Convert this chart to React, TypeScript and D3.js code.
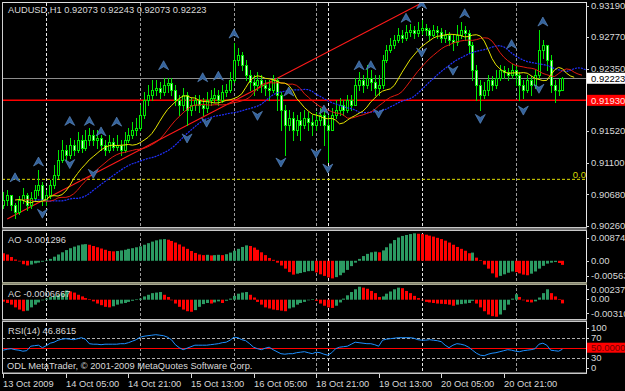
import React from 'react';
import * as d3 from 'd3';

const W = 625;
const H = 391;

// ---------- price data (H1 bars, AUDUSD) ----------
const firstOpen = 0.9054;
const highs = [
  0.9071, 0.9074, 0.9067, 0.9056, 0.9066, 0.9076, 0.907, 0.9071, 0.908, 0.91,
  0.9084, 0.9074, 0.9087, 0.9107, 0.9127, 0.914, 0.9134, 0.9143, 0.914, 0.9151,
  0.9147, 0.9153, 0.9156, 0.9153, 0.9153, 0.9147, 0.914, 0.9147, 0.9143, 0.9147,
  0.914, 0.9151, 0.9156, 0.9164, 0.9169, 0.9187, 0.9204, 0.9213, 0.922, 0.922,
  0.9217, 0.9223, 0.9223, 0.9223, 0.9213, 0.92, 0.9209, 0.9204, 0.9196, 0.92,
  0.92, 0.9196, 0.9204, 0.9207, 0.9209, 0.9207, 0.9213, 0.9215, 0.9231, 0.9269,
  0.9263, 0.9257, 0.9247, 0.9233, 0.9227, 0.9231, 0.9227, 0.922, 0.922, 0.9227,
  0.9223, 0.9204, 0.9187, 0.918, 0.9177, 0.9173, 0.9177, 0.918, 0.9177, 0.9173,
  0.9177, 0.9183, 0.918, 0.9173, 0.9183, 0.9193, 0.9196, 0.9193, 0.92, 0.92,
  0.9223, 0.9231, 0.9227, 0.924, 0.9233, 0.9227, 0.9227, 0.9253, 0.9267, 0.9276,
  0.928, 0.9289, 0.9286, 0.9293, 0.9294, 0.9292, 0.9297, 0.93, 0.9294, 0.9289,
  0.9293, 0.9292, 0.9289, 0.9286, 0.9284, 0.928, 0.9293, 0.9297, 0.9292, 0.9286,
  0.927, 0.924, 0.922, 0.9217, 0.9227, 0.9225, 0.9233, 0.924, 0.9239, 0.9236,
  0.9241, 0.9239, 0.9231, 0.922, 0.9227, 0.9225, 0.9233, 0.9286, 0.9273, 0.9267,
  0.9253, 0.922, 0.9222, 0.92243,
];
const lows = [
  0.905, 0.9054, 0.9047, 0.9036, 0.9042, 0.9056, 0.9047, 0.905, 0.906, 0.9067,
  0.9054, 0.9054, 0.9063, 0.9076, 0.909, 0.9111, 0.9114, 0.9116, 0.912, 0.9124,
  0.9124, 0.9127, 0.9134, 0.9134, 0.913, 0.9127, 0.912, 0.9124, 0.9127, 0.9127,
  0.912, 0.9124, 0.9137, 0.9143, 0.9147, 0.9153, 0.9169, 0.9187, 0.9193, 0.92,
  0.9196, 0.92, 0.9204, 0.92, 0.9187, 0.9173, 0.918, 0.916, 0.9173, 0.918,
  0.9177, 0.9173, 0.9177, 0.9187, 0.9191, 0.9187, 0.9191, 0.9199, 0.9204, 0.9217,
  0.924, 0.9233, 0.922, 0.9207, 0.92, 0.9207, 0.9204, 0.92, 0.9193, 0.9204,
  0.918, 0.9153, 0.912, 0.9153, 0.914, 0.9147, 0.914, 0.9156, 0.9153, 0.9147,
  0.9153, 0.916, 0.9134, 0.9111, 0.9153, 0.9169, 0.9173, 0.9173, 0.9177, 0.918,
  0.9187, 0.9207, 0.9204, 0.9209, 0.9207, 0.92, 0.92, 0.9209, 0.9244, 0.9257,
  0.9263, 0.927, 0.927, 0.9273, 0.9278, 0.9276, 0.9278, 0.9281, 0.928, 0.9273,
  0.9278, 0.9276, 0.927, 0.927, 0.9267, 0.926, 0.9267, 0.9276, 0.9273, 0.9257,
  0.922, 0.9193, 0.918, 0.9196, 0.92, 0.9207, 0.9209, 0.922, 0.9223, 0.922,
  0.9223, 0.9213, 0.9193, 0.9196, 0.9204, 0.92, 0.9209, 0.9223, 0.9249, 0.9233,
  0.9204, 0.9191, 0.92, 0.92073,
];
const closes = [
  0.906, 0.9067, 0.9054, 0.9044, 0.906, 0.9067, 0.9054, 0.9063, 0.9074, 0.908,
  0.906, 0.9067, 0.908, 0.9094, 0.9114, 0.9127, 0.912, 0.9134, 0.9127, 0.914,
  0.913, 0.914, 0.9147, 0.914, 0.9143, 0.9134, 0.9127, 0.9137, 0.9131, 0.9134,
  0.9127, 0.914, 0.9147, 0.9153, 0.9156, 0.9173, 0.9193, 0.92, 0.9207, 0.9209,
  0.9204, 0.9213, 0.9216, 0.9207, 0.9193, 0.9187, 0.92, 0.918, 0.9187, 0.9193,
  0.9187, 0.9183, 0.9193, 0.9196, 0.92, 0.9193, 0.9204, 0.9207, 0.922, 0.9247,
  0.9253, 0.924, 0.9227, 0.9217, 0.9213, 0.922, 0.9213, 0.9209, 0.9207, 0.922,
  0.92, 0.918, 0.916, 0.9169, 0.9153, 0.9167, 0.916, 0.9169, 0.9164, 0.916,
  0.9167, 0.9173, 0.916, 0.9153, 0.9173, 0.918, 0.9187, 0.918, 0.9193, 0.9187,
  0.9213, 0.922, 0.9213, 0.9223, 0.9217, 0.9209, 0.9213, 0.9247, 0.926, 0.9267,
  0.9273, 0.928, 0.9276, 0.9284, 0.9286, 0.9282, 0.9286, 0.9289, 0.9286, 0.928,
  0.9286, 0.9284, 0.9276, 0.928, 0.9273, 0.927, 0.928, 0.9286, 0.9282, 0.9267,
  0.9233, 0.9213, 0.92, 0.9207, 0.922, 0.9213, 0.9223, 0.9233, 0.9231, 0.9227,
  0.9233, 0.9227, 0.9213, 0.9207, 0.922, 0.9213, 0.9227, 0.926, 0.9267, 0.9247,
  0.9213, 0.9207, 0.92073, 0.92223,
];

// ---------- indicator values ----------
const aoValues = [
  0.0024, 0.002, 0.0012, 0.0004, -0.0002, -0.0011, -0.0015, -0.0012, -0.0008, -0.0006,
  -0.0003, 0.0001, 0.0006, 0.0013, 0.002, 0.0027, 0.0034, 0.004, 0.0045, 0.0049,
  0.0052, 0.0053, 0.0051, 0.0047, 0.0043, 0.0039, 0.0035, 0.0031, 0.003, 0.0031,
  0.0033, 0.0035, 0.0038, 0.004, 0.0043, 0.0046, 0.0051, 0.0056, 0.0061, 0.0065,
  0.0068, 0.0069, 0.0067, 0.0063, 0.0058, 0.0052, 0.0045, 0.0038, 0.0031, 0.0025,
  0.002, 0.0018, 0.0019, 0.0017, 0.0018, 0.0019, 0.0018, 0.0021, 0.0026, 0.0032,
  0.0038, 0.0044, 0.0049, 0.0047, 0.0042, 0.0035, 0.0027, 0.0018, 0.0009, 0.0003,
  -0.0006, -0.0015, -0.0025, -0.0036, -0.0044, -0.0041, -0.0039, -0.0036, -0.0033, -0.0032,
  -0.0037, -0.0043, -0.0048, -0.0053, -0.0056, -0.0052, -0.0046, -0.0038, -0.0029, -0.0017,
  -0.0006, 0.0006, 0.0015, 0.0022, 0.0027, 0.0029, 0.0027, 0.0033, 0.0043, 0.0055,
  0.0066, 0.0074, 0.0079, 0.0082, 0.0085, 0.00874, 0.0086, 0.0085, 0.0083, 0.008,
  0.0077, 0.0073, 0.0069, 0.0064, 0.0058, 0.0051, 0.0044, 0.0038, 0.0032, 0.0024,
  0.0026, 0.001, 0.0002, -0.0012, -0.0025, -0.004, -0.0053, -0.0048, -0.0043, -0.0038,
  -0.0034, -0.0036, -0.004, -0.0044, -0.0046, -0.0041, -0.0034, -0.0025, -0.0016, -0.0009,
  -0.0006, -0.0004, -0.0007, -0.001296,
];
const acValues = [
  -0.00035, -0.0006, -0.0009, -0.0014, -0.0018, -0.0021, -0.002, -0.0014, -0.0009, -0.0005,
  -0.0001, 0.0002, 0.0005, 0.0007, 0.0009, 0.0012, 0.0017, 0.0015, 0.0013, 0.0009,
  0.0006, 0.0003, 0.0001, -0.0003, -0.0007, -0.001, -0.0013, -0.0014, -0.0012, -0.0009,
  -0.0007, -0.0006, -0.0004, -0.0002, 0.00005, 0.0002, 0.0006, 0.0009, 0.0012, 0.0013,
  0.0014, 0.0009, 0.0005, -0.0001, -0.0007, -0.0013, -0.0018, -0.0021, -0.0022, -0.0019,
  -0.0013, -0.0008, -0.0006, -0.0007, -0.0005, -0.0003, -0.0006, -0.0002, 0.0002, 0.0007,
  0.0011, 0.0013, 0.0014, 0.0009, 0.0004, -0.0004, -0.0009, -0.0014, -0.0016, -0.0018,
  -0.0019, -0.002, -0.0021, -0.0016, -0.0014, -0.0009, -0.0006, -0.0004, -0.0001, 0.0001,
  -0.0002, -0.0007, -0.0011, -0.0014, -0.0015, -0.0011, -0.0005, 0.0002, 0.0008, 0.0014,
  0.0019, 0.00237, 0.0022, 0.002, 0.0016, 0.0012, 0.0005, 0.0006, 0.0011, 0.0015,
  0.0019, 0.0022, 0.0021, 0.0016, 0.0012, 0.0007, 0.0003, -0.0001, -0.0004, -0.0005,
  -0.0006, -0.0007, -0.00075, -0.0008, -0.0009, -0.0011, -0.0009, -0.0008, -0.0007, -0.0006,
  -0.0002, -0.0007, -0.0014, -0.0021, -0.0027, -0.003, -0.0031, -0.0027, -0.0019, -0.0009,
  0.0002, 0.001, 0.0005, -0.0001, -0.0004, -0.0005, -0.0003, 0.0004, 0.0012, 0.0019,
  0.0012, 0.0006, 0.0001, -0.00067,
];
const rsiValues = [
  45, 47, 48, 46, 45, 43, 44, 53, 54, 55,
  50, 54, 59, 61, 65, 67, 68, 67, 66, 68,
  70, 67, 58, 57, 57, 56, 57, 57, 57, 57,
  58, 58, 60, 63, 66, 71, 73, 74, 75, 76,
  75, 74, 71, 66, 56, 50, 46, 49, 52, 55,
  55, 55, 55, 56, 57, 58, 60, 61, 65, 71,
  70, 66, 64, 58, 51, 48, 46, 49, 51, 46,
  42, 38, 37, 38, 38, 40, 41, 42, 40, 38,
  41, 40, 37, 35, 40, 48, 51, 52, 53, 57,
  61, 60, 59, 58, 58, 56, 53, 65, 67, 68,
  69, 70, 70, 70, 70, 69, 66, 65, 65, 66,
  65, 64, 62, 55, 50, 55, 58, 57, 55, 51,
  45, 39, 35, 34, 37, 39, 40, 42, 44, 46,
  45, 43, 42, 44, 45, 46, 48, 57, 59, 55,
  45, 44, 43, 46.8615,
];

// ---------- fractals (bar index, price level of arrow) ----------
const fracUpIdx = [3, 9, 17, 22, 25, 29, 41, 51, 55, 59, 73, 82, 91, 94, 103, 107, 118, 130, 138];
const fracUpPrice = [0.909, 0.9111, 0.9165, 0.9165, 0.9151, 0.9164, 0.9239, 0.9223, 0.9225, 0.9281, 0.9204, 0.918, 0.9239, 0.9239, 0.9302, 0.932, 0.9308, 0.9267, 0.9297];
const fracDnIdx = [10, 17, 23, 47, 52, 65, 71, 80, 83, 96, 107, 115, 122, 133, 137];
const fracDnPrice = [0.9043, 0.9109, 0.9096, 0.9143, 0.9164, 0.9173, 0.9111, 0.9123, 0.9103, 0.9176, 0.9257, 0.9233, 0.9169, 0.918, 0.9209];

// ---------- objects / axes ----------
const currentPrice = 0.92223;
const redLinePrice = 0.9193;
const fiboPrice = 0.9088;
const trendIdx = [1, 107];
const trendPrice = [0.90353, 0.93223];
const priceTicks = [0.9319, 0.9277, 0.9235, 0.9152, 0.911, 0.9068, 0.9026];
const aoTicks = [0.008741, 0, -0.005634];
const aoTickLabels = ['0.008741', '0.00', '-0.005634'];
const acTicks = [0.002373, 0, -0.003101];
const acTickLabels = ['0.002373', '0.00', '-0.003101'];
const rsiTicks = [100, 70, 30, 0];
const timeLabels = ['13 Oct 2009', '14 Oct 05:00', '14 Oct 21:00', '15 Oct 13:00', '16 Oct 05:00', '18 Oct 21:00', '19 Oct 13:00', '20 Oct 05:00', '20 Oct 21:00'];
const timeLabelIdx = [0, 16, 32, 48, 64, 80, 96, 112, 128];
const gridWhiteIdx = [11, 83, 107];
const gridGrayIdx = [35, 59, 80, 131];

function smma(src: number[], n: number) {
  const out: number[] = [];
  let prev = src[0];
  src.forEach((v, i) => {
    prev = i === 0 ? v : (prev * (n - 1) + v) / n;
    out.push(prev);
  });
  return out;
}

const FONT = 'Liberation Sans, Arial, sans-serif';
const TXT = '#d8d8d8';

export default function App() {
  const L = 2, R = 586;
  const x = d3.scaleLinear().domain([0, 143]).range([3.3, 3.3 + 143 * 3.91]);
  const y = d3.scaleLinear().domain([0.9026, 0.9319]).range([226, 5.5]);
  const yAO = d3.scaleLinear().domain([-0.005634, 0.008741]).range([278.5, 233.3]);
  const yAC = d3.scaleLinear().domain([-0.003101, 0.002373]).range([316.7, 286.7]);
  const yRSI = d3.scaleLinear().domain([0, 100]).range([372.7, 322.7]);

  const opens = closes.map((c, i) => (i === 0 ? firstOpen : closes[i - 1]));
  const median = highs.map((h, i) => (h + lows[i]) / 2);
  const jaw = smma(median, 13);
  const teeth = smma(median, 8);
  const lips = smma(median, 5);

  const shiftedLine = (vals: number[], shift: number) =>
    d3.line<number>().x((_, i) => x(i + shift)).y((v) => y(v))(vals) || '';

  const rsiPath = d3.line<number>().x((_, i) => x(i)).y((v) => yRSI(v))(rsiValues) || '';

  const px = (v: number) => Math.round(v);

  const upArrow = (cx: number, cy: number) =>
    `M${cx},${cy - 5} L${cx + 5},${cy + 4} L${cx},${cy + 1} L${cx - 5},${cy + 4} Z`;
  const dnArrow = (cx: number, cy: number) =>
    `M${cx},${cy + 5} L${cx + 5},${cy - 4} L${cx},${cy - 1} L${cx - 5},${cy - 4} Z`;

  const sepBand = (yy: number, h: number, fill: string, edge: string, key: string) => (
    <g key={key}>
      <rect x={L} y={yy} width={R - L + 1} height={h} fill={fill} />
      <line x1={L} x2={R + 1} y1={yy + 0.5} y2={yy + 0.5} stroke={edge} />
      <line x1={L} x2={R + 1} y1={yy + h - 0.5} y2={yy + h - 0.5} stroke={edge} />
    </g>
  );

  const axisLabel = (yy: number, text: string, key: string) => (
    <g key={key}>
      <line x1={R} x2={R + 3} y1={px(yy) + 0.5} y2={px(yy) + 0.5} stroke={TXT} />
      <text x={591} y={yy + 3.3} fill={TXT} fontSize={9.5}>{text}</text>
    </g>
  );

  return (
    <svg width={W} height={H} style={{ position: 'absolute', left: 0, top: 0, display: 'block' }} fontFamily={FONT}>
      <defs>
        <clipPath id="cMain"><rect x={L + 1} y={3} width={R - L - 1} height={224} /></clipPath>
        <clipPath id="cAO"><rect x={L + 1} y={231} width={R - L - 1} height={51} /></clipPath>
        <clipPath id="cAC"><rect x={L + 1} y={285} width={R - L - 1} height={34} /></clipPath>
        <clipPath id="cRSI"><rect x={L + 1} y={322} width={R - L - 1} height={51} /></clipPath>
      </defs>
      <rect x={0} y={0} width={W} height={H} fill="#000" />

      {/* vertical grid / period separators */}
      {gridGrayIdx.map((i) => (
        <line key={'gg' + i} x1={px(x(i)) + 0.5} x2={px(x(i)) + 0.5} y1={3} y2={373} stroke="#9a9a9a" strokeDasharray="3,2" />
      ))}
      {gridWhiteIdx.map((i) => (
        <line key={'gw' + i} x1={px(x(i)) + 0.5} x2={px(x(i)) + 0.5} y1={3} y2={373} stroke="#e8e8e8" strokeDasharray="3,2" />
      ))}

      {/* main panel */}
      <g clipPath="url(#cMain)">
        <line x1={L} x2={R} y1={y(fiboPrice)} y2={y(fiboPrice)} stroke="#e0e000" strokeDasharray="3,2" />
        <line x1={L} x2={R} y1={px(y(currentPrice)) + 0.5} y2={px(y(currentPrice)) + 0.5} stroke="#8c8c8c" />
        <line x1={L} x2={R} y1={y(redLinePrice)} y2={y(redLinePrice)} stroke="#ff0000" strokeWidth={1.6} />
        <line x1={x(trendIdx[0])} x2={x(trendIdx[1])} y1={y(trendPrice[0])} y2={y(trendPrice[1])} stroke="#ff1a1a" strokeWidth={1.1} />

        {closes.map((c, i) => {
          const o = opens[i];
          const cx = px(x(i));
          const top = px(y(Math.max(o, c)));
          const bot = px(y(Math.min(o, c)));
          const bull = c >= o;
          return (
            <g key={'b' + i}>
              <line x1={cx + 0.5} x2={cx + 0.5} y1={px(y(highs[i]))} y2={px(y(lows[i])) + 1} stroke="#00e800" />
              <rect x={cx - 0.5} y={top + 0.5} width={2} height={Math.max(bot - top, 0.5)} fill={bull ? '#000' : '#d8ffd8'} stroke="#00e800" strokeWidth={1} />
            </g>
          );
        })}

        <path d={shiftedLine(jaw, 8)} fill="none" stroke="#2030ff" strokeWidth={1.2} strokeDasharray="2,1" />
        <path d={shiftedLine(teeth, 5)} fill="none" stroke="#e01a10" strokeWidth={1} />
        <path d={shiftedLine(lips, 3)} fill="none" stroke="#e6e600" strokeWidth={1} />

        {fracUpIdx.map((i, k) => (
          <path key={'fu' + k} d={upArrow(x(i), y(fracUpPrice[k]))} fill="#35639c" stroke="#5f8fc8" strokeWidth={0.6} />
        ))}
        {fracDnIdx.map((i, k) => (
          <path key={'fd' + k} d={dnArrow(x(i), y(fracDnPrice[k]))} fill="#35639c" stroke="#5f8fc8" strokeWidth={0.6} />
        ))}
      </g>
      <text x={586} y={178} textAnchor="end" fill="#d8d800" fontSize={9.5}>0.0</text>
      <text x={8} y={13} fill={TXT} fontSize={9.3}>AUDUSD,H1  0.92073 0.92243 0.92073 0.92223</text>

      {/* AO */}
      <g clipPath="url(#cAO)">
        {aoValues.map((v, i) => {
          const up = i > 0 ? v > aoValues[i - 1] : false;
          const y0 = yAO(0), y1 = yAO(v);
          return <rect key={'ao' + i} x={px(x(i)) - 1} y={Math.min(y0, y1)} width={3} height={Math.max(Math.abs(y1 - y0), 0.6)} fill={up ? '#2b9a62' : '#ff0000'} />;
        })}
      </g>
      <text x={8} y={243} fill={TXT} fontSize={9.3}>AO -0.001296</text>

      {/* AC */}
      <g clipPath="url(#cAC)">
        {acValues.map((v, i) => {
          const up = i > 0 ? v > acValues[i - 1] : false;
          const y0 = yAC(0), y1 = yAC(v);
          return <rect key={'ac' + i} x={px(x(i)) - 1} y={Math.min(y0, y1)} width={3} height={Math.max(Math.abs(y1 - y0), 0.6)} fill={up ? '#2b9a62' : '#ff0000'} />;
        })}
      </g>
      <text x={8} y={297} fill={TXT} fontSize={9.3}>AC -0.0006667</text>

      {/* RSI */}
      <g clipPath="url(#cRSI)">
        {[70, 30].map((lv) => (
          <line key={'lv' + lv} x1={L} x2={R} y1={px(yRSI(lv)) + 0.5} y2={px(yRSI(lv)) + 0.5} stroke="#b4b4b4" strokeDasharray="3,2" />
        ))}
        <line x1={L} x2={R} y1={px(yRSI(50)) + 0.5} y2={px(yRSI(50)) + 0.5} stroke="#ff0000" />
        <path d={rsiPath} fill="none" stroke="#1e90ff" strokeWidth={1} />
      </g>
      <text x={8} y={334} fill={TXT} fontSize={9.3}>RSI(14) 46.8615</text>
      <text x={7} y={369} fill={TXT} fontSize={9.3}>ODL MetaTrader, © 2001-2009 MetaQuotes Software Corp.</text>

      {/* separators and borders */}
      <line x1={L} x2={R + 1} y1={2.5} y2={2.5} stroke="#e0e0e0" />
      <line x1={L + 0.5} x2={L + 0.5} y1={2} y2={374} stroke="#d0d0d0" />
      <line x1={R + 0.5} x2={R + 0.5} y1={2} y2={374} stroke="#e8e8e8" />
      {sepBand(227, 4, '#707070', '#c8c8c8', 's1')}
      {sepBand(282, 3, '#858570', '#a8a890', 's2')}
      {sepBand(319, 3, '#707070', '#c8c8c8', 's3')}
      <rect x={L} y={372.5} width={R - L + 1} height={1.5} fill="#c8c8c8" />

      {/* price axis */}
      {priceTicks.map((p, k) => axisLabel(y(p), p.toFixed(5), 'pt' + k))}
      <rect x={587} y={y(currentPrice) - 5.5} width={38} height={11} fill="#ffffff" />
      <text x={591} y={y(currentPrice) + 3.3} fill="#000" fontSize={9.5}>0.92223</text>
      <rect x={587} y={y(redLinePrice) - 5.5} width={38} height={11} fill="#ff0000" />
      <text x={591} y={y(redLinePrice) + 3.3} fill="#ffe0e0" fontSize={9.5}>0.91930</text>

      {aoTicks.map((v, k) => axisLabel(yAO(v) + (k === 0 ? 4.5 : k === 2 ? -2.5 : 0), aoTickLabels[k], 'ao' + k))}
      {acTicks.map((v, k) => axisLabel(yAC(v) + (k === 0 ? 2.5 : k === 2 ? -3.5 : -1), acTickLabels[k], 'act' + k))}
      {rsiTicks.map((v, k) => axisLabel(yRSI(v) + (v === 100 ? 5 : v === 0 ? -5 : 0), String(v), 'rt' + k))}
      <rect x={587} y={yRSI(50) - 5} width={38} height={10} fill="#ff0000" />
      <text x={591} y={yRSI(50) + 3.3} fill="#700000" fontSize={9.5}>50.0000</text>

      {/* time axis */}
      {timeLabelIdx.map((i, k) => (
        <g key={'tl' + k}>
          <line x1={px(x(i)) + 0.5} x2={px(x(i)) + 0.5} y1={374} y2={378} stroke={TXT} />
          <text x={px(x(i))} y={387} fill={TXT} fontSize={9.3}>{timeLabels[k]}</text>
        </g>
      ))}
    </svg>
  );
}
